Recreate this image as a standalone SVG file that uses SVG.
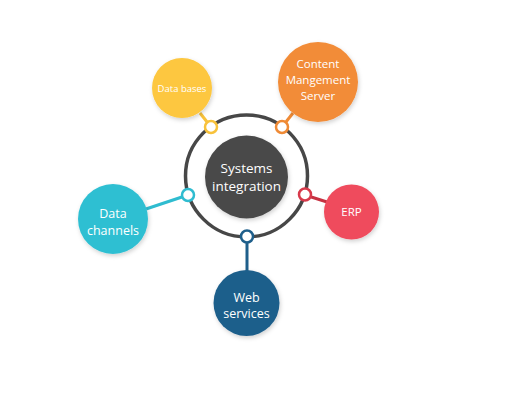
<svg xmlns="http://www.w3.org/2000/svg" width="510" height="419" viewBox="0 0 510 419">
<defs>
<filter id="sh" x="-30%" y="-30%" width="160%" height="160%">
<feDropShadow dx="1" dy="2" stdDeviation="2" flood-color="#000" flood-opacity="0.18"/>
</filter>
</defs>
<style>
text{font-family:"Open Sans","Noto Sans",sans-serif;fill:#fff;text-anchor:middle}
.dot{fill:#fff;stroke-width:2.5}
.ln{stroke-width:3;fill:none}
</style>
<rect width="510" height="419" fill="#fff"/>
<g id="connectors">
<line class="ln" x1="211" y1="127" x2="200" y2="113" stroke="#f8c23b"/>
<line class="ln" x1="282" y1="127" x2="293" y2="113" stroke="#ef8a35"/>
<line class="ln" x1="188" y1="195" x2="146" y2="209" stroke="#2fbcd0"/>
<line class="ln" x1="305" y1="195" x2="327" y2="202" stroke="#c73242"/>
<line class="ln" x1="247" y1="237" x2="247" y2="272" stroke="#1f5f8b"/>
</g>
<g id="hub">
<circle cx="246.5" cy="176" r="61" fill="none" stroke="#474747" stroke-width="3.5"/>
<circle cx="246.5" cy="177" r="41.5" fill="#4a4a4a" filter="url(#sh)"/>
<text x="246.5" y="173" font-size="13.5">Systems</text>
<text x="246.5" y="191" font-size="13.5">integration</text>
</g>
<g id="databases">
<circle cx="182" cy="88" r="30" fill="#fdc73f" filter="url(#sh)"/>
<text x="182" y="92" font-size="9.5">Data bases</text>
<circle class="dot" cx="211" cy="127" r="6" stroke="#f8c23b"/>
</g>
<g id="cms">
<circle cx="318" cy="82" r="40" fill="#f28c38" filter="url(#sh)"/>
<text x="318" y="68" font-size="11.5">Content</text>
<text x="318" y="84" font-size="11.5">Mangement</text>
<text x="318" y="100" font-size="11.5">Server</text>
<circle class="dot" cx="282" cy="127" r="6" stroke="#ef8a35"/>
</g>
<g id="datachannels">
<circle cx="113" cy="219" r="35" fill="#2fbfd2" filter="url(#sh)"/>
<text x="113" y="218" font-size="12.5">Data</text>
<text x="113" y="235" font-size="12.5">channels</text>
<circle class="dot" cx="188" cy="195" r="6" stroke="#2fbcd0"/>
</g>
<g id="erp">
<circle cx="351.5" cy="212" r="27.5" fill="#ef4b5d" filter="url(#sh)"/>
<text x="351.5" y="216" font-size="11.5">ERP</text>
<circle class="dot" cx="305" cy="194.5" r="6" stroke="#d83a4b"/>
</g>
<g id="webservices">
<circle cx="246.5" cy="303" r="33" fill="#1f5f8b" filter="url(#sh)"/>
<text x="246.5" y="302" font-size="12.5">Web</text>
<text x="246.5" y="318" font-size="12.5">services</text>
<circle class="dot" cx="247" cy="236.5" r="6" stroke="#1f5f8b"/>
</g>
</svg>
